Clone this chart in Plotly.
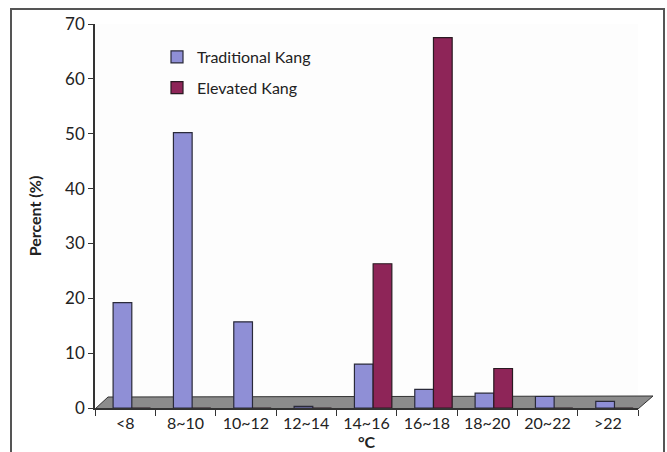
import plotly.graph_objects as go

categories = ["<8", "8~10", "10~12", "12~14", "14~16", "16~18", "18~20", "20~22", ">22"]
traditional = [19.2, 50.2, 15.7, 0.3, 8.0, 3.4, 2.7, 2.1, 1.2]
elevated = [0, 0, 0, 0, 26.3, 67.5, 7.2, 0, 0]
y_ticks = [0, 10, 20, 30, 40, 50, 60, 70]

FONT = "Lato, 'Open Sans', sans-serif"

fig = go.Figure()
fig.add_trace(go.Bar(
    x=categories, y=traditional, name="Traditional Kang",
    offset=-0.20, width=0.31,
    marker=dict(color="#8f8fd6", line=dict(color="#2a2a3a", width=1.2)),
    legendgroup="a",
))
fig.add_trace(go.Bar(
    x=categories, y=elevated, name="Elevated Kang",
    offset=0.11, width=0.31,
    marker=dict(color="#8e2558", line=dict(color="#2a1a22", width=1.2)),
    legendgroup="b",
))

W, H = 667, 452
L, R, T, B = 95, 29, 24, 44
pw, ph = W - L - R, H - T - B

def px(x):
    return (x - L) / pw

def py(y):
    return (H - B - y) / ph

# floor
floor_path = "M {} {} L {} {} L {} {} L {} {} Z".format(
    px(95), py(409), px(638), py(409), px(653), py(396), px(108), py(397))
fig.add_shape(type="path", xref="paper", yref="paper", path=floor_path,
              fillcolor="#8c8c8c", line=dict(color="#333333", width=1), layer="below")
# outer frame
fig.add_shape(type="rect", xref="paper", yref="paper",
              x0=px(11), x1=px(664), y0=py(470), y1=py(9),
              line=dict(color="#555555", width=2), fillcolor="rgba(0,0,0,0)", layer="below")

fig.update_layout(
    width=W, height=H,
    margin=dict(l=L, r=R, t=T, b=B, autoexpand=False),
    paper_bgcolor="#ffffff",
    plot_bgcolor="#fdfdfd",
    font=dict(family=FONT, size=16, color="#222222"),
    barmode="overlay",
    showlegend=True,
    legend=dict(x=px(157), y=py(40), xanchor="left", yanchor="top",
                bgcolor="rgba(0,0,0,0)", font=dict(size=16, color="#222222"),
                tracegroupgap=7, traceorder="grouped", itemwidth=30),
    xaxis=dict(
        automargin=False,
        showline=True, linecolor="#333333", linewidth=1.5,
        ticks="outside", tickson="boundaries", ticklen=6, tickcolor="#333333",
        title=dict(text="<b>°C</b>", font=dict(size=16), standoff=2),
        tickfont=dict(size=16),
        showgrid=False,
    ),
    yaxis=dict(
        automargin=False,
        range=[0, 70], tickvals=y_ticks,
        showline=True, linecolor="#333333", linewidth=1.5,
        ticks="outside", ticklen=5, tickcolor="#333333",
        showgrid=False, zeroline=False,
        title=dict(text="<b>Percent (%)</b>", font=dict(size=16), standoff=20),
        tickfont=dict(size=17),
    ),
)

fig.write_html("out.html", post_script="document.body.style.margin='0';",
               config={"displayModeBar": False})
